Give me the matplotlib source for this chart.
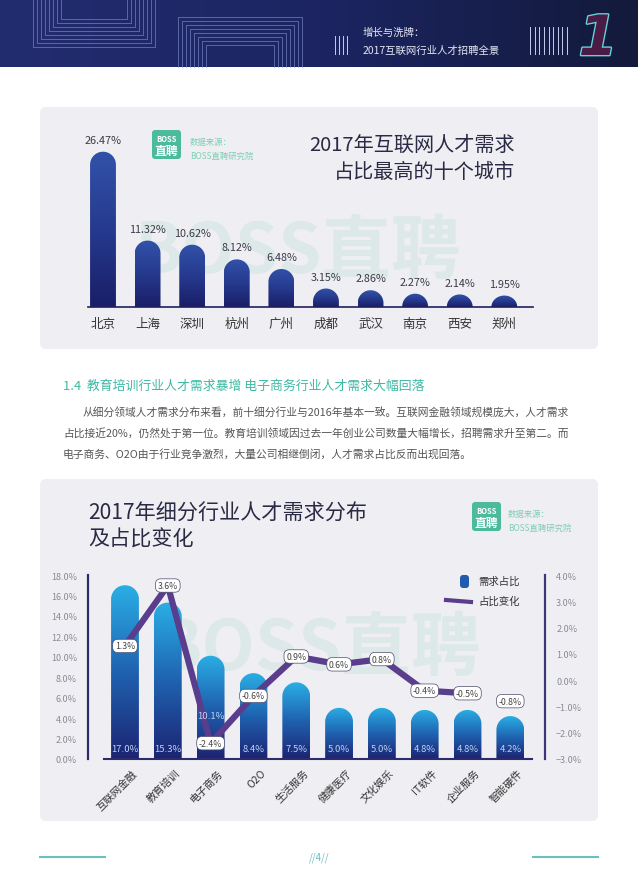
import numpy as np
import matplotlib
matplotlib.use('Agg')
import matplotlib.pyplot as plt
from matplotlib.patches import FancyBboxPatch, PathPatch
from matplotlib.path import Path
from matplotlib.colors import LinearSegmentedColormap
from matplotlib.transforms import ScaledTranslation
import matplotlib.patheffects as pe

plt.rcParams['font.family'] = ['Noto Sans CJK SC', 'DejaVu Sans']

# top ten cities
cities = ['北京', '上海', '深圳', '杭州', '广州', '成都', '武汉', '南京', '西安', '郑州']
city_share = [26.47, 11.32, 10.62, 8.12, 6.48, 3.15, 2.86, 2.27, 2.14, 1.95]

# industries
industries = ['互联网金融', '教育培训', '电子商务', 'O2O', '生活服务',
              '健康医疗', '文化娱乐', 'IT软件', '企业服务', '智能硬件']
ind_share = [17.0, 15.3, 10.1, 8.4, 7.5, 5.0, 5.0, 4.8, 4.8, 4.2]
ind_change = [1.3, 3.6, -2.4, -0.6, 0.9, 0.6, 0.8, -0.4, -0.5, -0.8]

left_ticks = np.arange(0, 19, 2)
right_ticks = np.arange(-3, 5, 1)

heading = '1.4  教育培训行业人才需求暴增 电子商务行业人才需求大幅回落'
para = ['从细分领域人才需求分布来看，前十细分行业与2016年基本一致。互联网金融领域规模庞大，人才需求',
        '占比接近20%，仍然处于第一位。教育培训领域因过去一年创业公司数量大幅增长，招聘需求升至第二。而',
        '电子商务、O2O由于行业竞争激烈，大量公司相继倒闭，人才需求占比反而出现回落。']

W, H = 638, 895
fig = plt.figure(figsize=(W / 100, H / 100), dpi=100)
page = fig.add_axes([0, 0, 1, 1])
page.axis('off')


def box(x0, y0, x1, y1):
    # pixel box (top-left origin) -> figure fraction
    return [x0 / W, 1 - y1 / H, (x1 - x0) / W, (y1 - y0) / H]


#header band
hdr_cmap = LinearSegmentedColormap.from_list('hdr', ['#222d70', '#1c2562', '#131a3b'])
page.imshow(np.linspace(0, 1, 256).reshape(1, -1), extent=[0, W, 68, 0],
            cmap=hdr_cmap, aspect='auto', zorder=0)
for k in range(8):
    d = 4 * k
    page.plot([33 + d, 33 + d, 155 - d, 155 - d], [0, 48 - d, 48 - d, 0],
              color='#8090d0', lw=0.6, alpha=0.7, zorder=1)
    page.plot([178 + d, 178 + d, 302 - d, 302 - d], [68, 18 + d, 18 + d, 68],
              color='#8090d0', lw=0.6, alpha=0.7, zorder=1)
for xx in np.arange(335, 349, 4):
    page.plot([xx, xx], [37, 55], color='#c5cdf0', lw=0.7, zorder=1)
for xx in np.linspace(530, 567, 9):
    page.plot([xx, xx], [28, 55], color='#c5cdf0', lw=0.7, zorder=1)
page.text(363, 33, '增长与洗牌：', color='#e4e7f2', fontsize=7.5, va='center', zorder=2)
page.text(363, 51, '2017互联网行业人才招聘全景', color='#e4e7f2', fontsize=7.5, va='center', zorder=2)
page.text(598, 41, '1', fontsize=40, fontstyle='italic', fontweight='bold', family='DejaVu Sans',
          color='#4a1b45', ha='center', va='center', zorder=2,
          path_effects=[pe.Stroke(linewidth=2, foreground='#63d2d6'), pe.Normal()])

#panels
for (y0, y1) in [(108, 350), (480, 822)]:
    page.add_patch(FancyBboxPatch((40, y0), 558, y1 - y0, boxstyle='round,pad=0,rounding_size=6',
                                  fc='#efeff3', ec='none', zorder=1))

page.text(298, 253, 'BOSS直聘', fontsize=50, fontweight='bold', color='#dde9e8',
          ha='center', va='center', zorder=2)
page.text(318, 650, 'BOSS直聘', fontsize=50, fontweight='bold', color='#dde9e8',
          ha='center', va='center', zorder=2)


def logo(x, y, tx):
    page.add_patch(FancyBboxPatch((x, y), 29, 29, boxstyle='round,pad=0,rounding_size=3',
                                  fc='#4cbb9c', ec='none', zorder=3))
    page.text(x + 14.5, y + 8, 'BOSS', color='white', fontsize=5.5, fontweight='bold',
              ha='center', va='center', zorder=4)
    page.text(x + 14.5, y + 20.5, '直聘', color='white', fontsize=8.5, fontweight='bold',
              ha='center', va='center', zorder=4)
    page.text(tx, y + 11, '数据来源：', color='#7fcfb2', fontsize=6, va='center', zorder=4)
    page.text(tx, y + 25, 'BOSS直聘研究院', color='#7fcfb2', fontsize=6, va='center', zorder=4)


logo(152, 131, 190)
logo(472, 503, 508)

page.text(515, 145, '2017年互联网人才需求', fontsize=14.5, color='#2a2a45', ha='right', va='center', zorder=4)
page.text(515, 172, '占比最高的十个城市', fontsize=14.5, color='#2a2a45', ha='right', va='center', zorder=4)
page.text(88, 514, '2017年细分行业人才需求分布', fontsize=15.2, color='#2a2a45', va='center', zorder=4)
page.text(88, 540, '及占比变化', fontsize=15.2, color='#2a2a45', va='center', zorder=4)

page.text(63, 386, heading, fontsize=9.3, color='#3fb9a4', va='center')
page.text(83, 412, para[0], fontsize=7.75, color='#555555', va='center')
page.text(63, 433, para[1], fontsize=7.75, color='#555555', va='center')
page.text(63, 454, para[2], fontsize=7.75, color='#555555', va='center')

#legend
page.add_patch(FancyBboxPatch((460, 576), 9, 13, boxstyle='round,pad=0,rounding_size=3',
                              fc='#1f5cab', ec='none', zorder=4))
page.text(478, 582, '需求占比', fontsize=7.5, color='#333333', va='center', zorder=4)
page.plot([446, 471], [601, 603], color='#5a3d8c', lw=3, zorder=4)
page.text(478, 602, '占比变化', fontsize=7.5, color='#333333', va='center', zorder=4)

#footer
page.plot([40, 105], [858, 858], color='#6cc0c0', lw=1.5)
page.plot([533, 598], [858, 858], color='#6cc0c0', lw=1.5)
page.text(319, 858, '//4//', fontsize=7, color='#6cbcbc', fontstyle='italic', ha='center', va='center')

page.set_xlim(0, W)
page.set_ylim(H, 0)


def round_bar(ax, x, h, w, cmap, z=2):
    # bar with rounded top, gradient fill clipped to shape
    bb = ax.get_position()
    x0, x1 = ax.get_xlim()
    y0, y1 = ax.get_ylim()
    px_x = bb.width * W / (x1 - x0)
    px_y = bb.height * H / (y1 - y0)
    r = min(w / 2 * px_x / px_y, h)
    t = np.linspace(np.pi, 0, 40)
    xs = np.concatenate([[x - w / 2], x + w / 2 * np.cos(t), [x + w / 2, x - w / 2]])
    ys = np.concatenate([[0], h - r + r * np.sin(t), [0, 0]])
    patch = PathPatch(Path(np.column_stack([xs, ys]), closed=True), fc='none', ec='none')
    ax.add_patch(patch)
    im = ax.imshow(np.linspace(0, 1, 100).reshape(-1, 1), extent=[x - w / 2, x + w / 2, 0, h],
                   cmap=cmap, aspect='auto', origin='lower', zorder=z)
    im.set_clip_path(patch)


#city chart
city_cmap = LinearSegmentedColormap.from_list('city', ['#1a1e68', '#263a8e', '#3152a9'])
ax1 = fig.add_axes(box(80.7, 132, 540, 308))
ax1.patch.set_alpha(0)
ax1.set_xlim(-0.5, 9.8)
ax1.set_ylim(0, 30)
for i, v in enumerate(city_share):
    round_bar(ax1, i, v, 0.58, city_cmap)
    ax1.annotate(f'{v:.2f}%', (i, v), xytext=(0, 5), textcoords='offset points',
                 ha='center', va='bottom', fontsize=7.8, color='#3a3a4a')
ax1.set_xlim(-0.5, 9.8)
ax1.set_ylim(0, 30)
ax1.set_xticks(range(len(cities)))
ax1.set_xticklabels(cities)
ax1.set_yticks([])
ax1.tick_params(axis='x', length=0, pad=7, labelsize=9, labelcolor='#333333')
for s in ['left', 'right', 'top']:
    ax1.spines[s].set_visible(False)
ax1.spines['bottom'].set_color('#1f2060')
ax1.spines['bottom'].set_linewidth(1.2)
ax1.spines['bottom'].set_bounds(-0.34, 9.64)

#industry chart
ind_cmap = LinearSegmentedColormap.from_list('ind', ['#1c2472', '#1f62b0', '#2aaee4'])
ax2 = fig.add_axes(box(88, 576, 545, 760))
ax2.patch.set_alpha(0)
ax2.set_xlim(-0.864, 9.81)
ax2.set_ylim(0, 18)
for i, v in enumerate(ind_share):
    round_bar(ax2, i, v, 0.65, ind_cmap)
ax2.set_xlim(-0.864, 9.81)
ax2.set_ylim(0, 18)
ax2.set_yticks(left_ticks)
ax2.set_yticklabels([f'{v:.1f}%' for v in left_ticks])
ax2.tick_params(axis='y', length=0, pad=8, labelsize=6.5, labelcolor='#8a8a95')
ax2.set_xticks(range(len(industries)))
ax2.set_xticklabels(industries, rotation=45, ha='right', rotation_mode='anchor')
ax2.tick_params(axis='x', length=0, pad=6, labelsize=7.5, labelcolor='#333333')
for lab in ax2.get_xticklabels():
    lab.set_transform(lab.get_transform() + ScaledTranslation(5 / 72, 0, fig.dpi_scale_trans))
ax2.spines['top'].set_visible(False)
ax2.spines['right'].set_visible(False)
ax2.spines['left'].set_color('#2c2b6c')
ax2.spines['left'].set_linewidth(1.6)
ax2.spines['bottom'].set_color('#2c2b6c')
ax2.spines['bottom'].set_linewidth(1.5)
ax2.spines['bottom'].set_bounds(-0.5, 9.5)

ax3 = ax2.twinx()
ax3.set_ylim(-3, 4)
idx = np.arange(len(ind_change))
ax3.plot(idx[:-1], ind_change[:-1], color='#5a3d8c', lw=4.5, solid_capstyle='butt', zorder=3)
for i, v in enumerate(ind_share):
    # move label up when the change label sits at the bar foot
    yl = 1.0 if ind_change[i] > -2 else 4.3
    ax3.text(i, yl, f'{v:.1f}%', transform=ax2.transData, ha='center', va='center',
             fontsize=6.8, color='#b9d3f5', zorder=5)
for i, c in enumerate(ind_change):
    ax3.text(i, c, f'{c:.1f}%', ha='center', va='center', fontsize=6.3, color='#444444', zorder=6,
             bbox=dict(boxstyle='round,pad=0.25,rounding_size=0.6', fc='white', ec='#4a4a6a', lw=0.5))
ax3.set_yticks(right_ticks)
ax3.set_yticklabels([f'{v:.1f}%'.replace('-', '\u2212') for v in right_ticks])
ax3.tick_params(axis='y', length=0, pad=8, labelsize=6.5, labelcolor='#8a8a95')
for s in ['left', 'top', 'bottom']:
    ax3.spines[s].set_visible(False)
ax3.spines['right'].set_color('#3c3775')
ax3.spines['right'].set_linewidth(1.6)

fig.savefig('out.png', dpi=100, facecolor='white')
